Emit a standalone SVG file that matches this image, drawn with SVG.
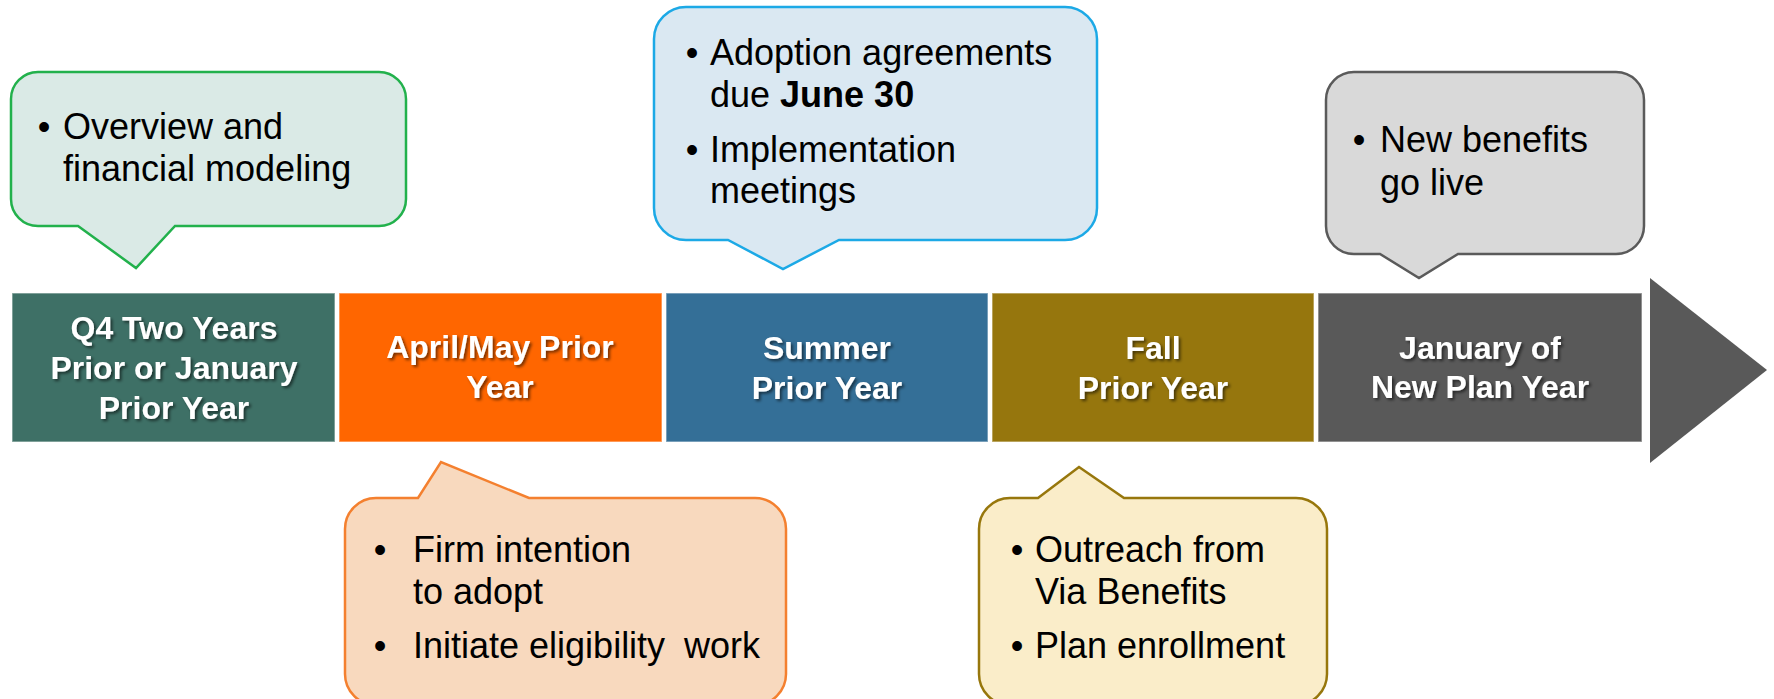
<svg xmlns="http://www.w3.org/2000/svg" width="1774" height="699" viewBox="0 0 1774 699">
  <defs>
    <filter id="txtShadow" x="-10%" y="-30%" width="120%" height="160%">
      <feDropShadow dx="2" dy="2" stdDeviation="1.5" flood-color="#000" flood-opacity="0.55"/>
    </filter>
    <style>
      .bar { stroke: #ffffff; stroke-opacity: 0.45; stroke-width: 1.5; }
      .barText { font-family: "Liberation Sans", Arial, sans-serif; font-weight: bold; font-size: 32px; fill: #ffffff; text-anchor: middle; filter: url(#txtShadow); }
      .call { stroke-width: 2.5; stroke-linejoin: miter; }
      .note { font-family: "Liberation Sans", Arial, sans-serif; font-size: 36px; fill: #000000; }
      .dot { font-family: "Liberation Sans", Arial, sans-serif; font-size: 36px; fill: #000000; text-anchor: middle; }
    </style>
  </defs>

  <rect width="1774" height="699" fill="#ffffff"/>

  <!-- timeline bar segments -->
  <g id="phase-q4">
    <rect class="bar" x="12" y="293" width="323" height="149" fill="#3E7066"/>
    <text class="barText" x="174" y="339">Q4 Two Years</text>
    <text class="barText" x="174" y="379">Prior or January</text>
    <text class="barText" x="174" y="419">Prior Year</text>
  </g>
  <g id="phase-april">
    <rect class="bar" x="339" y="293" width="323" height="149" fill="#FF6600"/>
    <text class="barText" x="500" y="358">April/May Prior</text>
    <text class="barText" x="500" y="398">Year</text>
  </g>
  <g id="phase-summer">
    <rect class="bar" x="666" y="293" width="322" height="149" fill="#346F97"/>
    <text class="barText" x="827" y="359">Summer</text>
    <text class="barText" x="827" y="399">Prior Year</text>
  </g>
  <g id="phase-fall">
    <rect class="bar" x="992" y="293" width="322" height="149" fill="#96760D"/>
    <text class="barText" x="1153" y="359">Fall</text>
    <text class="barText" x="1153" y="399">Prior Year</text>
  </g>
  <g id="phase-january">
    <rect class="bar" x="1318" y="293" width="324" height="149" fill="#595959"/>
    <text class="barText" x="1480" y="359">January of</text>
    <text class="barText" x="1480" y="398">New Plan Year</text>
  </g>

  <!-- arrow head closing the timeline -->
  <g id="connectors">
    <polygon points="1650,278 1767,370 1650,463" fill="#595959"/>
  </g>

  <!-- callouts above the bar -->
  <g id="note-overview">
    <path class="call" fill="#DAEAE6" stroke="#22B14C"
      d="M38,72 H379 A27,27 0 0 1 406,99 V199 A27,27 0 0 1 379,226 H175 L136,268 L78,226 H38 A27,27 0 0 1 11,199 V99 A27,27 0 0 1 38,72 Z"/>
    <text class="dot" x="44" y="139">•</text>
    <text class="note" x="63" y="139">Overview and</text>
    <text class="note" x="63" y="181">financial modeling</text>
  </g>

  <g id="note-adoption">
    <path class="call" fill="#DAE8F2" stroke="#1CA9E6"
      d="M686,7 H1065 A32,32 0 0 1 1097,39 V208 A32,32 0 0 1 1065,240 H839 L783,269 L728,240 H686 A32,32 0 0 1 654,208 V39 A32,32 0 0 1 686,7 Z"/>
    <text class="dot" x="692" y="65">•</text>
    <text class="note" x="710" y="65">Adoption agreements</text>
    <text class="note" x="710" y="107">due <tspan font-weight="bold">June 30</tspan></text>
    <text class="dot" x="692" y="162">•</text>
    <text class="note" x="710" y="162">Implementation</text>
    <text class="note" x="710" y="203">meetings</text>
  </g>

  <g id="note-live">
    <path class="call" fill="#D9D9D9" stroke="#5A5A5A"
      d="M1354,72 H1616 A28,28 0 0 1 1644,100 V226 A28,28 0 0 1 1616,254 H1458 L1419,278 L1380,254 H1354 A28,28 0 0 1 1326,226 V100 A28,28 0 0 1 1354,72 Z"/>
    <text class="dot" x="1359" y="152">•</text>
    <text class="note" x="1380" y="152">New benefits</text>
    <text class="note" x="1380" y="195">go live</text>
  </g>

  <!-- callouts below the bar (their lower edge runs off the page) -->
  <g id="note-intention">
    <path class="call" fill="#F8D9BE" stroke="#F4802F"
      d="M376,498 H418 L441,462 L529,498 H755 A31,31 0 0 1 786,529 V674 A31,31 0 0 1 755,705 H376 A31,31 0 0 1 345,674 V529 A31,31 0 0 1 376,498 Z"/>
    <text class="dot" x="380" y="562">•</text>
    <text class="note" x="413" y="562">Firm intention</text>
    <text class="note" x="413" y="604">to adopt</text>
    <text class="dot" x="380" y="658">•</text>
    <text class="note" x="413" y="658">Initiate eligibility <tspan x="684">work</tspan></text>
  </g>

  <g id="note-enrollment">
    <path class="call" fill="#FAEDC9" stroke="#97770C"
      d="M1010,498 H1038 L1079,467 L1124,498 H1296 A31,31 0 0 1 1327,529 V674 A31,31 0 0 1 1296,705 H1010 A31,31 0 0 1 979,674 V529 A31,31 0 0 1 1010,498 Z"/>
    <text class="dot" x="1017" y="562">•</text>
    <text class="note" x="1035" y="562">Outreach from</text>
    <text class="note" x="1035" y="604">Via Benefits</text>
    <text class="dot" x="1017" y="658">•</text>
    <text class="note" x="1035" y="658">Plan enrollment</text>
  </g>
</svg>
